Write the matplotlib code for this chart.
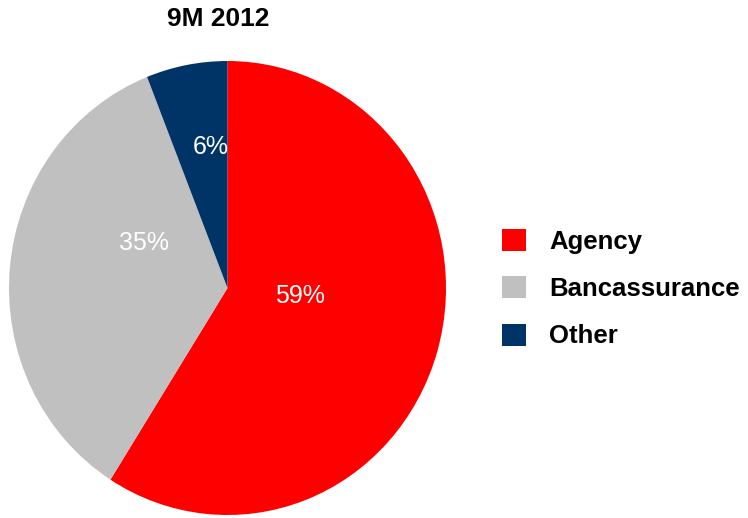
import matplotlib
matplotlib.use("Agg")
import matplotlib.pyplot as plt

plt.rcParams['font.family'] = ['Liberation Sans', 'DejaVu Sans']

title = "9M 2012"
categories = ["Agency", "Bancassurance", "Other"]
shares = [59, 35, 6]
colors = ["#FF0000", "#C0C0C0", "#003366"]
# label anchor points in pie units (radius = 1)
label_pos = [(0.332, -0.035), (-0.382, 0.198), (-0.076, 0.621)]

W, H = 748, 518
fig = plt.figure(figsize=(W / 100, H / 100), dpi=100)
cx, cy, rx, ry = 227.5, 288, 218.5, 227
ax = fig.add_axes([(cx - rx) / W, (H - cy - ry) / H, 2 * rx / W, 2 * ry / H])

wedges, _ = ax.pie(shares, colors=colors, startangle=90, counterclock=False,
                   radius=1, wedgeprops=dict(linewidth=0))
ax.set_xlim(-1, 1)
ax.set_ylim(-1, 1)
ax.set_aspect('auto')
ax.axis('off')

for v, (x, y) in zip(shares, label_pos):
    ax.text(x, y, f"{v}%", color="white", fontsize=18, ha="center", va="center")

fig.text(218 / W, 1 - 19 / H, title, fontsize=19, fontweight="bold",
         ha="center", va="center")

leg = fig.legend(wedges, categories, loc="upper left",
                 bbox_to_anchor=(502 / W, 1 - 229 / H), frameon=False,
                 prop=dict(size=18.5, weight="bold"),
                 handlelength=0.93, handleheight=0.93, handletextpad=0.9,
                 labelspacing=0.88, borderpad=0, borderaxespad=0)

fig.savefig("out.png", dpi=100)
